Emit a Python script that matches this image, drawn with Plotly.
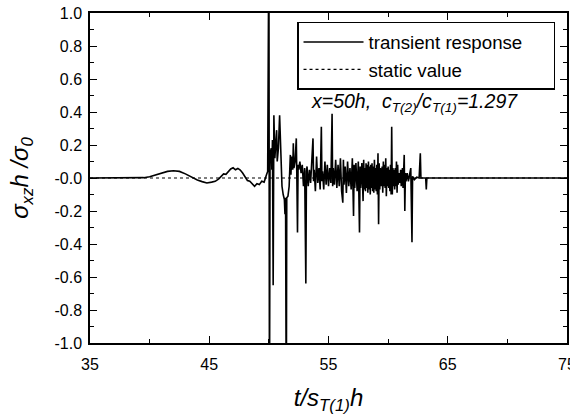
import plotly.graph_objects as go

# ---- data ----
t_transient = [
    35.0, 39.0, 39.5, 40.0, 40.5, 41.0, 41.5, 42.0, 42.5, 43.0, 43.5, 44.0, 44.4, 44.8, 45.2, 45.5,
    45.8, 46.0, 46.2, 46.4, 46.6, 46.8, 47.0, 47.2, 47.4, 47.6, 47.8, 48.0, 48.2, 48.4, 48.6, 48.8,
    49.0, 49.2, 49.4, 49.6, 49.8, 49.9,
    50.0, 50.05, 50.1, 50.2, 50.25, 50.3, 50.36, 50.42, 50.5, 50.55, 50.65, 50.7, 50.8, 50.9, 51.0,
    51.1, 51.2, 51.3, 51.35, 51.4, 51.46, 51.5, 51.6, 51.7, 51.8, 51.85, 51.9, 52.0, 52.05, 52.1,
    52.2, 52.3, 52.35, 52.4, 52.45, 52.5, 52.6, 52.7, 52.8, 52.9, 53.0, 53.1, 53.15, 53.2, 53.3,
    53.4, 53.5, 53.6, 53.7, 53.75, 53.8, 53.9, 54.0, 54.1, 54.2, 54.3, 54.4, 54.45, 54.5, 54.6,
    54.7, 54.8, 54.9, 55.0, 55.1, 55.2, 55.3, 55.35, 55.4, 55.5, 55.6, 55.7, 55.8, 55.9, 56.0,
    56.1, 56.2, 56.25, 56.3, 56.4, 56.5, 56.6, 56.7, 56.8, 56.9, 57.0, 57.1, 57.15, 57.2, 57.3,
    57.4, 57.5, 57.6, 57.65, 57.7, 57.8, 57.9, 57.95, 58.0,
    58.05, 58.1, 58.15, 58.2, 58.25, 58.3, 58.35, 58.4, 58.45, 58.5, 58.55, 58.6, 58.65, 58.7,
    58.75, 58.8, 58.85, 58.9, 58.95, 59.0, 59.05, 59.1, 59.15, 59.2, 59.25, 59.3, 59.35, 59.4,
    59.5, 59.55, 59.6, 59.65, 59.7, 59.75, 59.8, 59.85, 59.9, 59.95, 60.0, 60.05, 60.1, 60.15,
    60.2, 60.25, 60.3, 60.35, 60.4, 60.45, 60.5, 60.55, 60.6, 60.65, 60.7, 60.75, 60.8, 60.85,
    60.9, 61.0, 61.05, 61.1, 61.2, 61.25, 61.3, 61.35, 61.4, 61.45, 61.5, 61.6, 61.7, 61.8,
    61.9, 62.0, 62.05, 62.2, 62.4, 62.6, 62.7, 62.75, 63.0, 63.15, 63.2, 63.25, 75.0,
]
y_transient = [
    0.0, 0.0, 0.002, 0.008, 0.02, 0.03, 0.04, 0.044, 0.04, 0.025, 0.005, -0.012, -0.022, -0.03, -0.025, -0.02,
    -0.005, 0.01, 0.025, 0.022, 0.04, 0.055, 0.062, 0.05, 0.058, 0.048, 0.03, 0.01, -0.015, -0.02, -0.035, -0.05,
    -0.035, -0.04, -0.02, -0.025, 0.02, 0.04,
    1.5, -1.5, 0.15, 0.18, 0.05, 0.23, -0.65, 0.38, 0.12, 0.2, 0.29, 0.1, 0.18, 0.38, 0.12,
    -0.05, -0.1, -0.13, -0.22, -0.12, -1.5, -0.12, -0.11, -0.05, 0.14, 0.02, 0.13, 0.05, 0.21, 0.06,
    0.1, 0.24, -0.02, -0.33, 0.08, 0.05, 0.1, 0.03, 0.08, -0.05, 0.06, -0.64, 0.04, 0.07, -0.05,
    0.05, -0.03, 0.09, 0.24, -0.02, 0.05, -0.08, 0.13, -0.03, 0.06, -0.07, 0.31, -0.02, 0.04, -0.07,
    0.1, -0.04, 0.08, -0.05, 0.06, -0.03, 0.39, -0.05, 0.06, -0.04, 0.11, -0.06, 0.08, -0.05, 0.12,
    -0.08, -0.15, 0.11, -0.04, 0.07, -0.09, 0.1, -0.05, 0.06, -0.07, 0.12, -0.23, 0.08, -0.06, 0.09,
    -0.08, 0.1, -0.33, 0.07, -0.06, 0.09, -0.14, 0.11, -0.07,
    0.06, -0.08, 0.09, -0.06, 0.08, -0.09, 0.1, -0.07, 0.07, -0.1, 0.08, -0.06, 0.09, -0.08,
    0.07, -0.09, 0.11, -0.07, 0.06, -0.08, 0.08, -0.1, 0.15, -0.28, 0.09, -0.07, 0.06, -0.05,
    0.07, -0.09, 0.1, -0.05, 0.08, -0.06, 0.12, -0.11, 0.06, -0.05, 0.07, -0.06, 0.05, -0.08,
    0.08, -0.1, 0.31, -0.1, 0.06, -0.05, 0.05, -0.07, 0.06, -0.05, 0.1, -0.09, 0.08, -0.04,
    0.03, -0.03, 0.05, -0.05, 0.06, -0.06, 0.04, 0.14, -0.2, 0.03, -0.02, 0.03, -0.02, 0.02,
    0.06, -0.39, 0.01, -0.01, 0.005, 0.0, 0.15, 0.0, 0.0, 0.0, -0.07, 0.0, 0.0,
]
t_static = [35.0, 75.0]
y_static = [0.0, 0.0]

x_tickvals = [35, 45, 55, 65, 75]
x_ticktext = ["35", "45", "55", "65", "75"]
y_tickvals = [-1.0, -0.8, -0.6, -0.4, -0.2, 0.0, 0.2, 0.4, 0.6, 0.8, 1.0]
y_ticktext = ["-1.0", "-0.8", "-0.6", "-0.4", "-0.2", "-0.0", "0.2", "0.4", "0.6", "0.8", "1.0"]

FONT = "Arial, Liberation Sans, Helvetica, sans-serif"
NB = "\u00a0"

fig = go.Figure()
fig.add_trace(go.Scatter(
    x=t_transient, y=y_transient, mode="lines", name="transient response" + NB * 5,
    line=dict(color="black", width=1.6),
))
fig.add_trace(go.Scatter(
    x=t_static, y=y_static, mode="lines", name="static value",
    line=dict(color="black", width=1.2, dash="dot"),
))

axis_common = dict(
    showline=True, linecolor="black", linewidth=1.5, mirror="ticks",
    ticks="inside", ticklen=7, tickwidth=1.2, tickcolor="black",
    showgrid=False, zeroline=False, automargin=False,
    ticklabeloverflow="allow",
    tickfont=dict(family=FONT, size=16, color="black"),
)

fig.update_xaxes(
    range=[35, 75], tickmode="array", tickvals=x_tickvals, ticktext=x_ticktext,
    minor=dict(dtick=5, ticks="inside", ticklen=4, tickcolor="black", showgrid=False),
    ticklabelstandoff=6,
    title=dict(text="<i>t/s<sub>T(1)</sub>h</i>", font=dict(family=FONT, size=24, color="black"), standoff=17),
    **axis_common,
)
fig.update_yaxes(
    range=[-1, 1], tickmode="array", tickvals=y_tickvals, ticktext=y_ticktext,
    minor=dict(dtick=0.1, ticks="inside", ticklen=4, tickcolor="black", showgrid=False),
    ticklabelstandoff=3,
    title=dict(text="<i>σ<sub>xz</sub>h /σ<sub>0</sub></i>", font=dict(family=FONT, size=24, color="black"), standoff=19),
    **axis_common,
)

fig.add_annotation(
    x=0.681, y=0.728, xref="paper", yref="paper", showarrow=False,
    xanchor="center", yanchor="middle",
    text="<i>x=50h,  c<sub>T(2)</sub>/c<sub>T(1)</sub>=1.297</i>",
    font=dict(family=FONT, size=19.5, color="black"),
)

fig.update_layout(
    width=570, height=417, autosize=False,
    margin=dict(l=90, r=3, t=13, b=74, autoexpand=False),
    plot_bgcolor="white", paper_bgcolor="white",
    showlegend=True,
    legend=dict(
        x=0.434, y=0.973, xanchor="left", yanchor="top",
        bordercolor="black", borderwidth=1.5, bgcolor="white",
        font=dict(family=FONT, size=18.7, color="black"),
        itemwidth=60, tracegroupgap=0,
    ),
)

fig.write_html(
    "out.html",
    config={"displayModeBar": False, "responsive": False},
    post_script="document.body.style.margin='0';document.body.style.overflow='hidden';",
)
